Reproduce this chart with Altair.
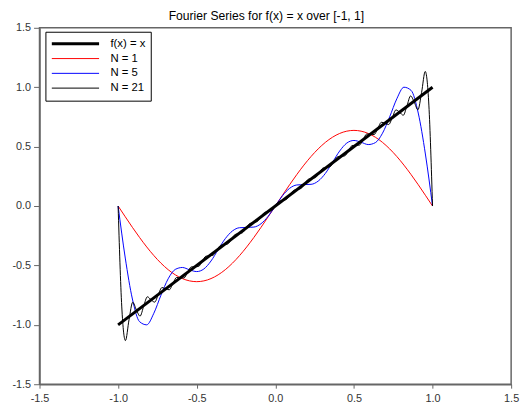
import altair as alt
import pandas as pd

title_text = "Fourier Series for f(x) = x over [-1, 1]"
series_names = ["f(x) = x", "N = 1", "N = 5", "N = 21"]
series_colors = ["#000000", "#ff0000", "#0000ff", "#000000"]
series_widths = [3.0, 1.0, 1.0, 1.0]
axis_ticks = [-1.5, -1.0, -0.5, 0.0, 0.5, 1.0, 1.5]

# f(x) = x
fx_x = [-1.0, 1.0]
fx_y = [-1.0, 1.0]

# sample positions for N = 1 and N = 5
x_grid22 = [-1.0, -0.9545, -0.9091, -0.8636, -0.8182, -0.7727, -0.7273, -0.6818,
            -0.6364, -0.5909, -0.5455, -0.5, -0.4545, -0.4091, -0.3636, -0.3182,
            -0.2727, -0.2273, -0.1818, -0.1364, -0.0909, -0.0455, 0.0, 0.0455,
            0.0909, 0.1364, 0.1818, 0.2273, 0.2727, 0.3182, 0.3636, 0.4091,
            0.4545, 0.5, 0.5455, 0.5909, 0.6364, 0.6818, 0.7273, 0.7727,
            0.8182, 0.8636, 0.9091, 0.9545, 1.0]

n1_y = [0.0, -0.0906, -0.1794, -0.2645, -0.3442, -0.4169, -0.4811, -0.5356,
        -0.5791, -0.6108, -0.6301, -0.6366, -0.6301, -0.6108, -0.5791, -0.5356,
        -0.4811, -0.4169, -0.3442, -0.2645, -0.1794, -0.0906, 0.0, 0.0906,
        0.1794, 0.2645, 0.3442, 0.4169, 0.4811, 0.5356, 0.5791, 0.6108,
        0.6301, 0.6366, 0.6301, 0.6108, 0.5791, 0.5356, 0.4811, 0.4169,
        0.3442, 0.2645, 0.1794, 0.0906, 0.0]

n5_y = [0.0, -0.4379, -0.7826, -0.9733, -0.9999, -0.9024, -0.7503, -0.6129,
        -0.5335, -0.5173, -0.5370, -0.5517, -0.5297, -0.4627, -0.3674, -0.2743,
        -0.2098, -0.1826, -0.1803, -0.1771, -0.1489, -0.0864, 0.0, 0.0864,
        0.1489, 0.1771, 0.1803, 0.1826, 0.2098, 0.2743, 0.3674, 0.4627,
        0.5297, 0.5517, 0.5370, 0.5173, 0.5335, 0.6129, 0.7503, 0.9024,
        0.9999, 0.9733, 0.7826, 0.4379, 0.0]

# sample positions for N = 21
x_grid43 = [-1.0, -0.9767, -0.9535, -0.9302, -0.907, -0.8837, -0.8605, -0.8372,
            -0.814, -0.7907, -0.7674, -0.7442, -0.7209, -0.6977, -0.6744, -0.6512,
            -0.6279, -0.6047, -0.5814, -0.5581, -0.5349, -0.5116, -0.4884, -0.4651,
            -0.4419, -0.4186, -0.3953, -0.3721, -0.3488, -0.3256, -0.3023, -0.2791,
            -0.2558, -0.2326, -0.2093, -0.186, -0.1628, -0.1395, -0.1163, -0.093,
            -0.0698, -0.0465, -0.0233, 0.0, 0.0233, 0.0465, 0.0698, 0.093,
            0.1163, 0.1395, 0.1628, 0.186, 0.2093, 0.2326, 0.2558, 0.2791,
            0.3023, 0.3256, 0.3488, 0.3721, 0.3953, 0.4186, 0.4419, 0.4651,
            0.4884, 0.5116, 0.5349, 0.5581, 0.5814, 0.6047, 0.6279, 0.6512,
            0.6744, 0.6977, 0.7209, 0.7442, 0.7674, 0.7907, 0.814, 0.8372,
            0.8605, 0.8837, 0.907, 0.9302, 0.9535, 0.9767, 1.0]

n21_y = [0.0, -0.8494, -1.1325, -0.9541, -0.8098, -0.8744, -0.9267, -0.8422,
         -0.7639, -0.7890, -0.8089, -0.7442, -0.6861, -0.6977, -0.7047, -0.6512,
         -0.6011, -0.6047, -0.6056, -0.5581, -0.5127, -0.5116, -0.5089, -0.4651,
         -0.4226, -0.4186, -0.4136, -0.3721, -0.3315, -0.3256, -0.3190, -0.2791,
         -0.2397, -0.2326, -0.2249, -0.1860, -0.1475, -0.1395, -0.1313, -0.0930,
         -0.0549, -0.0465, -0.0381, 0.0, 0.0381, 0.0465, 0.0549, 0.0930,
         0.1313, 0.1395, 0.1475, 0.1860, 0.2249, 0.2326, 0.2397, 0.2791,
         0.3190, 0.3256, 0.3315, 0.3721, 0.4136, 0.4186, 0.4226, 0.4651,
         0.5089, 0.5116, 0.5127, 0.5581, 0.6056, 0.6047, 0.6011, 0.6512,
         0.7047, 0.6977, 0.6861, 0.7442, 0.8089, 0.7890, 0.7639, 0.8422,
         0.9267, 0.8744, 0.8098, 0.9541, 1.1325, 0.8494, 0.0]

rows = []
for name, xs, ys in [("f(x) = x", fx_x, fx_y), ("N = 1", x_grid22, n1_y),
                     ("N = 5", x_grid22, n5_y), ("N = 21", x_grid43, n21_y)]:
    for i, (xv, yv) in enumerate(zip(xs, ys)):
        rows.append({"series": name, "x": xv, "y": yv, "idx": i})
df = pd.DataFrame(rows)

FONT = "Liberation Sans"
label_expr = "datum.value < 0 ? '-' + format(-datum.value, '.1f') : format(datum.value, '.1f')"

legend = alt.Legend(
    title=None, orient="none", legendX=6, legendY=4,
    symbolType="stroke", symbolSize=2304, clipHeight=14.5,
    rowPadding=0, labelOffset=10, padding=5,
    strokeColor="black", fillColor="white",
    labelFont=FONT, labelFontSize=11.5, labelColor="black",
)

color = alt.Color("series:N", scale=alt.Scale(domain=series_names, range=series_colors), legend=legend)
width_enc = alt.StrokeWidth("series:N", scale=alt.Scale(type="ordinal", domain=series_names, range=series_widths), legend=legend)

xenc = alt.X("x:Q", scale=alt.Scale(domain=[-1.5, 1.5], nice=False, zero=False),
             axis=alt.Axis(values=axis_ticks, labelExpr=label_expr, title=None,
                           tickSize=4, labelPadding=5))
yenc = alt.Y("y:Q", scale=alt.Scale(domain=[-1.5, 1.5], nice=False, zero=False),
             axis=alt.Axis(values=axis_ticks, labelExpr=label_expr, title=None,
                           tickSize=6, labelPadding=3))

base = alt.Chart(df)
layers = []
for name in ["N = 1", "N = 5", "N = 21", "f(x) = x"]:
    layers.append(
        base.transform_filter(alt.datum.series == name)
        .mark_line(interpolate="monotone", clip=True)
        .encode(x=xenc, y=yenc, color=color, strokeWidth=width_enc,
                order=alt.Order("idx:Q"))
    )

chart = alt.layer(*layers).properties(
    width=479, height=362,
    title=alt.Title(title_text, font=FONT, fontSize=12.3, fontWeight="normal",
                    color="black", offset=0, dx=-9),
    autosize=alt.AutoSizeParams(type="none"),
    padding={"left": 32, "top": 17, "right": 9, "bottom": 20},
).configure_view(
    stroke="#666", strokeWidth=1.5
).configure_axis(
    grid=False, domainColor="#666", domainWidth=1.5, tickColor="#666",
    labelFont=FONT, labelFontSize=11,
    labelColor="#333", labelFlush=False, labelOverlap=False,
)

chart.save("out.html", embed_options={"renderer": "svg", "actions": False})
